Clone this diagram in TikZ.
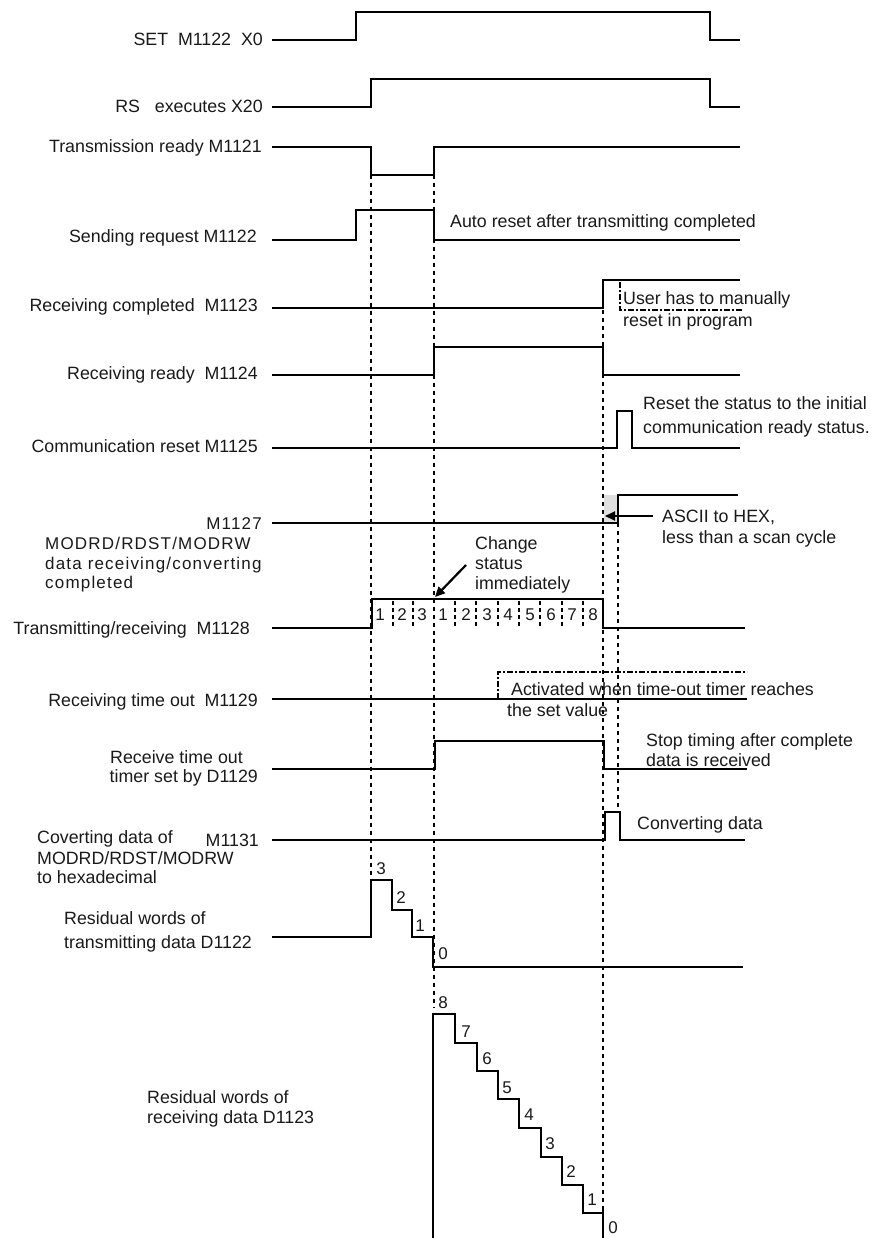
\documentclass[tikz,border=0pt]{standalone}
\usepackage{fontspec}
\setmainfont{Liberation Sans}
\newfontfamily\spacedfont[LetterSpace=7]{Liberation Sans}
\usetikzlibrary{arrows.meta}
\begin{document}
\begin{tikzpicture}[x=1pt,y=-1pt,
  sig/.style={line width=2.5pt},
  guide/.style={line width=2.2pt, dash pattern=on 4pt off 4pt},
  sep/.style={line width=2.2pt, dash pattern=on 4pt off 3pt},
  ddot/.style={line width=2pt, dash pattern=on 6pt off 2pt on 2pt off 2pt},
  txt/.style={font=\fontsize{17.8}{21}\selectfont, inner sep=0pt, text height=12pt, text depth=0pt, text=black!90},
  stxt/.style={font=\spacedfont\fontsize{17}{20}\selectfont, inner sep=0pt, text height=12pt, text depth=0pt, text=black!90},
  num/.style={font=\fontsize{17}{20}\selectfont, inner sep=0pt, text height=12pt, text depth=0pt, text=black!90},
  arr/.style={line width=2.2pt, -{Triangle[length=10pt,width=9pt]}}]
\useasboundingbox (0,0) rectangle (872,1238);

% grey box
\fill[gray!25] (604,495) rectangle (618,523);

% guides
\draw[guide] (371,175) -- (371,878);
\draw[guide] (434,175) -- (434,1008);
\draw[guide] (603,310) -- (603,1208);
\draw[guide] (618,523) -- (618,812);

% signals
\draw[sig] (272,40) -- (356,40) -- (356,12) -- (710,12) -- (710,40) -- (740,40);
\draw[sig] (272,107) -- (371,107) -- (371,79) -- (710,79) -- (710,107) -- (740,107);
\draw[sig] (272,147) -- (371,147) -- (371,175) -- (434,175) -- (434,147) -- (740,147);
\draw[sig] (272,240) -- (356,240) -- (356,210) -- (434,210) -- (434,240) -- (740,240);
\draw[sig] (272,308) -- (603,308) -- (603,280) -- (740,280);
\draw[ddot] (620,282) -- (620,310) -- (742,310);
\draw[sig] (272,375) -- (434,375) -- (434,347) -- (603,347) -- (603,375) -- (740,375);
\draw[sig] (272,448) -- (617,448) -- (617,411) -- (632,411) -- (632,448) -- (740,448);
\draw[sig] (272,523) -- (618,523) -- (618,495) -- (738,495);
\draw[sig] (272,628) -- (372,628) -- (372,599) -- (603,599) -- (603,628) -- (745,628);
\foreach \x in {393,413,455,476,498,519,540,562,583}
  \draw[sep] (\x,601) -- (\x,628);
\draw[sig] (272,699) -- (747,699);
\draw[ddot] (498,699) -- (498,672) -- (747,672);
\draw[sig] (272,769) -- (435,769) -- (435,741) -- (604,741) -- (604,769) -- (747,769);
\draw[sig] (272,840) -- (605,840) -- (605,812) -- (620,812) -- (620,840) -- (745,840);
\draw[sig] (272,937) -- (371,937) -- (371,880) -- (392,880) -- (392,910) -- (412,910) -- (412,937) -- (433,937) -- (433,967) -- (743,967);
\draw[sig] (433,1238) -- (433,1014) -- (455,1014) -- (455,1043) -- (477,1043) -- (477,1071) -- (498,1071) -- (498,1099) -- (519,1099) -- (519,1128) -- (541,1128) -- (541,1157) -- (562,1157) -- (562,1185) -- (583,1185) -- (583,1213) -- (603,1213);
\draw[sig] (603,1208) -- (603,1238);

% left labels
\node[txt, anchor=east] (lset) at (263,40) {SET\ \ M1122\ \ X0};
\node[txt, anchor=east] (lrs) at (263,107) {RS\ \ \ executes X20};
\node[txt, anchor=east] (l1121) at (262,147) {Transmission ready M1121};
\node[txt, anchor=east] (l1122) at (257,237) {Sending request M1122};
\node[txt, anchor=east] (l1123) at (258,306) {Receiving completed\ \ M1123};
\node[txt, anchor=east] (l1124) at (258,373) {Receiving ready\ \ M1124};
\node[txt, anchor=east] (l1125) at (258,446) {Communication reset M1125};
\node[stxt, anchor=east] (l1127) at (262,523) {M1127};
\node[stxt, anchor=west] (l1127a) at (45,543) {MODRD/RDST/MODRW};
\node[stxt, anchor=west] (l1127b) at (45,563) {data receiving/converting};
\node[stxt, anchor=west] (l1127c) at (45,582) {completed};
\node[txt, anchor=east] (l1128) at (250,628) {Transmitting/receiving\ \ M1128};
\node[txt, anchor=east] (l1129) at (258,700) {Receiving time out\ \ M1129};
\node[txt, anchor=east] (ld1129a) at (243,757) {Receive time out};
\node[txt, anchor=east] (ld1129b) at (258,776) {timer set by D1129};
\node[txt, anchor=west] (l1131a) at (37,837) {Coverting data of};
\node[txt, anchor=east] (l1131) at (259,840) {M1131};
\node[txt, anchor=west] (l1131b) at (37,858) {MODRD/RDST/MODRW};
\node[txt, anchor=west] (l1131c) at (37,877) {to hexadecimal};
\node[txt, anchor=west] (ld1122a) at (64,918) {Residual words of};
\node[txt, anchor=west] (ld1122b) at (64,942) {transmitting data D1122};
\node[txt, anchor=west] (ld1123a) at (147,1097) {Residual words of};
\node[txt, anchor=west] (ld1123b) at (147,1117) {receiving data D1123};

% right annotations
\node[txt, anchor=west] (nauto) at (450,222) {Auto reset after transmitting completed};
\node[txt, anchor=west] (nuser1) at (623,299) {User has to manually};
\node[txt, anchor=west] (nuser2) at (623,320) {reset in program};
\node[txt, anchor=west] (nreset1) at (643,403) {Reset the status to the initial};
\node[txt, anchor=west] (nreset2) at (643,427) {communication ready status.};
\node[txt, anchor=west] (nascii1) at (662,516) {ASCII to HEX,};
\node[txt, anchor=west] (nascii2) at (662,537) {less than a scan cycle};
\node[txt, anchor=west] (nchg1) at (475,543) {Change};
\node[txt, anchor=west] (nchg2) at (475,563) {status};
\node[txt, anchor=west] (nchg3) at (475,583) {immediately};
\node[txt, anchor=west] (nact1) at (511,689) {Activated when time-out timer reaches};
\node[txt, anchor=west] (nact2) at (507,710) {the set value};
\node[txt, anchor=west] (nstop1) at (646,740) {Stop timing after complete};
\node[txt, anchor=west] (nstop2) at (646,760) {data is received};
\node[txt, anchor=west] (nconv) at (637,823) {Converting data};

% arrows
\coordinate (asciiS) at (653,516);
\coordinate (asciiE) at (605,516);
\draw[arr] (asciiS) -- (asciiE);
\coordinate (chgS) at (466,565);
\coordinate (chgE) at (435,597);
\draw[arr] (chgS) -- (chgE);

% M1128 numbers
\foreach \x/\n [count=\i] in {380/1,402/2,422/3,443/1,466/2,487/3,508/4,530/5,551/6,572/7,593/8}
  \node[num] (m\i) at (\x,614) {\n};

% D1122 numbers
\node[num] (t3) at (381,868) {3};
\node[num] (t2) at (401,897) {2};
\node[num] (t1) at (420,925) {1};
\node[num] (t0) at (443,953) {0};

% D1123 numbers
\node[num] (r8) at (443,1002) {8};
\node[num] (r7) at (466,1031) {7};
\node[num] (r6) at (487,1058) {6};
\node[num] (r5) at (507,1087) {5};
\node[num] (r4) at (529,1114) {4};
\node[num] (r3) at (550,1143) {3};
\node[num] (r2) at (571,1171) {2};
\node[num] (r1) at (592,1199) {1};
\node[num] (r0) at (613,1227) {0};
\end{tikzpicture}
\end{document}
